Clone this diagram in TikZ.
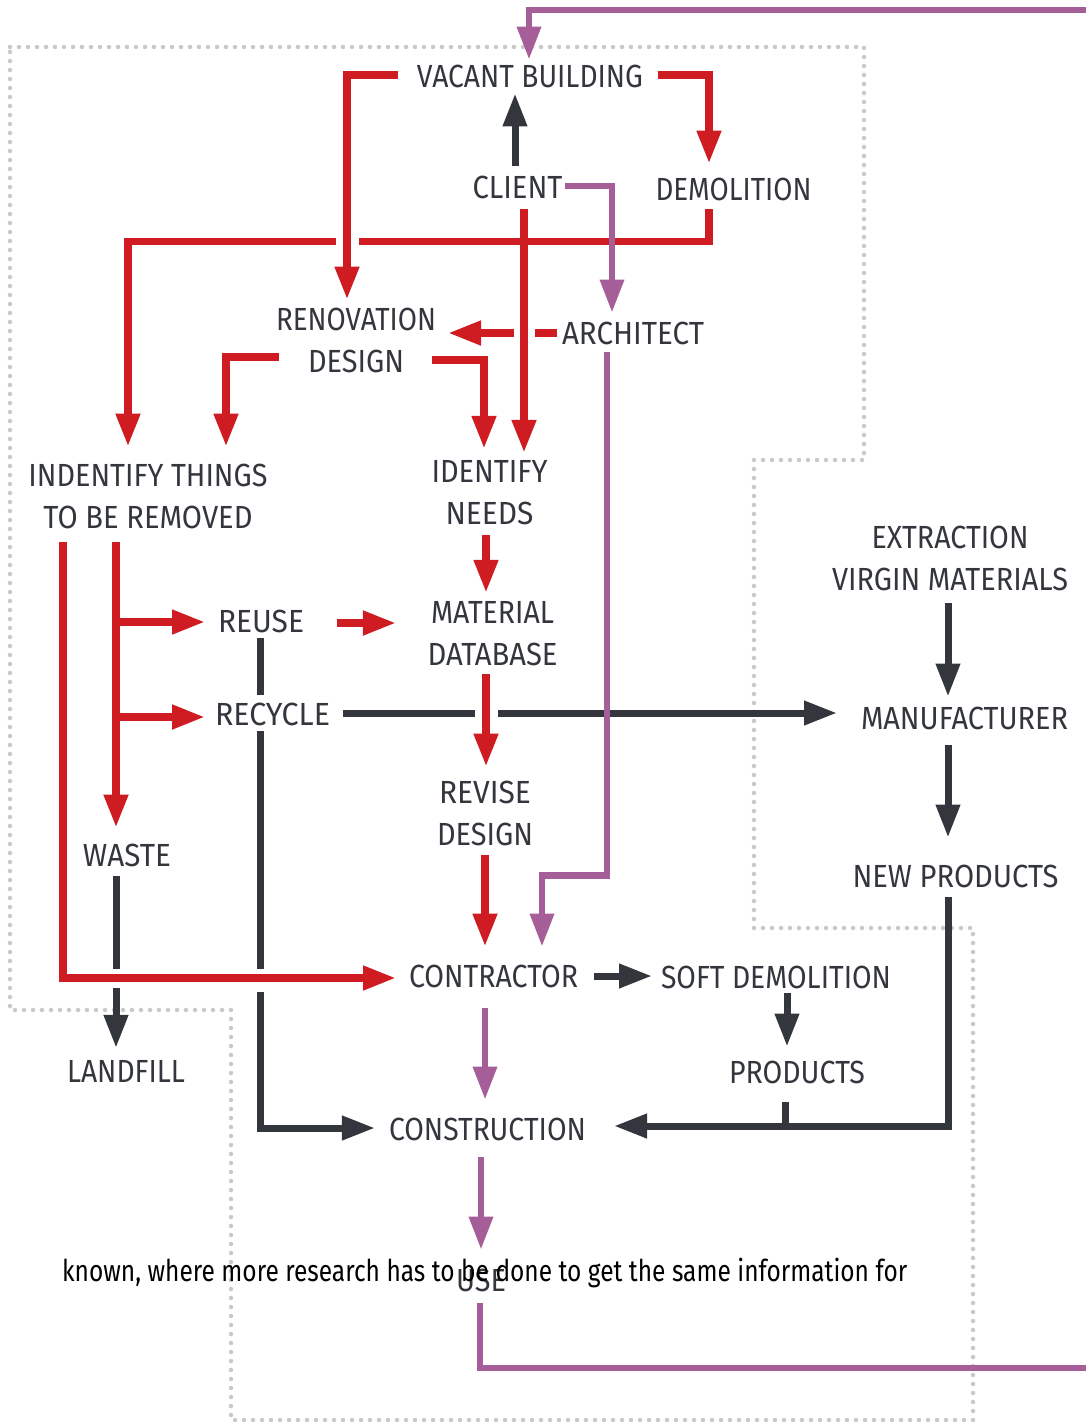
\documentclass[tikz,border=0pt]{standalone}
\usepackage{fontspec}
\setmainfont{Fira Sans}
\usetikzlibrary{arrows.meta,calc}
\definecolor{cred}{HTML}{CF1B22}
\definecolor{cpur}{HTML}{A65E98}
\definecolor{cdark}{HTML}{33363C}
\definecolor{cdot}{HTML}{C9C9C9}
\newcommand\fw[2]{\resizebox{#1pt}{\height}{#2}}
\begin{document}
\begin{tikzpicture}[x=1pt,y=-1pt,
 lbl/.style={inner sep=0pt,outer sep=0pt,text=cdark,font=\fontsize{32}{42}\selectfont,align=center},
 tipx/.style={-{Triangle[length=33pt,width=23pt]}},
 redln/.style={draw=cred,line width=7.5pt},
 darkln/.style={draw=cdark,line width=7pt},
 purln/.style={draw=cpur,line width=6.5pt},
 gapfill/.style={fill=white,draw=none},
 dotln/.style={draw=cdot,line width=4.5pt,line cap=round,dash pattern=on 0pt off 9pt}]
\useasboundingbox (0,0) rectangle (1085,1422);
\fill[white] (0,0) rectangle (1085,1422);
% dotted outline
\draw[dotln] (10,47) -- (864,47) -- (864,460) -- (754,460) -- (754,928) -- (973,928) -- (973,1420) -- (231,1420) -- (231,1010) -- (10,1010) -- cycle;
% nodes
\node[lbl] (vb) at (530,76) {\fw{226}{VACANT BUILDING}};
\node[lbl] (client) at (517.5,187) {\fw{90}{CLIENT}};
\node[lbl] (demo) at (733.5,189) {\fw{156}{DEMOLITION}};
\node[lbl] (reno) at (356,340) {\fw{160}{RENOVATION}\\\fw{96}{DESIGN}};
\node[lbl] (arch) at (633,333.5) {\fw{142}{ARCHITECT}};
\node[lbl] (ident) at (148,496.5) {\fw{239}{INDENTIFY THINGS}\\\fw{209}{TO BE REMOVED}};
\node[lbl] (needs) at (489.5,492.5) {\fw{116}{IDENTIFY}\\\fw{88}{NEEDS}};
\node[lbl] (extr) at (950,558) {\fw{157}{EXTRACTION}\\\fw{236}{VIRGIN MATERIALS}};
\node[lbl] (reuse) at (261,621) {\fw{86}{REUSE}};
\node[lbl] (matdb) at (492.5,634) {\fw{123}{MATERIAL}\\\fw{130}{DATABASE}};
\node[lbl] (recycle) at (272.5,714) {\fw{115}{RECYCLE}};
\node[lbl] (manu) at (964.5,718) {\fw{207}{MANUFACTURER}};
\node[lbl] (revise) at (485,813) {\fw{92}{REVISE}\\\fw{96}{DESIGN}};
\node[lbl] (waste) at (127,855) {\fw{88}{WASTE}};
\node[lbl] (newp) at (955.5,876) {\fw{206}{NEW PRODUCTS}};
\node[lbl] (contr) at (493.5,976) {\fw{169}{CONTRACTOR}};
\node[lbl] (soft) at (776,977) {\fw{230}{SOFT DEMOLITION}};
\node[lbl] (landfill) at (126,1071.5) {\fw{118}{LANDFILL}};
\node[lbl] (products) at (797,1072) {\fw{136}{PRODUCTS}};
\node[lbl] (constr) at (487.5,1129.5) {\fw{197}{CONSTRUCTION}};
\node[lbl] (use) at (481,1280) {\fw{50}{USE}};
% dark connectors
\draw[darkln,tipx] ($(client.north)+(-2.5,-10)$) -- ($(vb.south)+(-15,6)$);
\draw[darkln] ($(reuse.south)+(-1,6)$) -- ($(recycle.north)+(-12.5,-8)$);
\draw[darkln,tipx] ($(recycle.south)+(-12.5,6)$) |- ($(constr.west)+(-14,-1.5)$);
\draw[darkln,tipx] ($(recycle.east)+(13,-1)$) -- ($(manu.west)+(-24,-5)$);
\draw[darkln,tipx] ($(extr.south)+(-2,13)$) -- ($(manu.north)+(-16.5,-10)$);
\draw[darkln,tipx] ($(manu.south)+(-16.5,16)$) -- ($(newp.north)+(-7.5,-27)$);
\draw[darkln,tipx] ($(waste.south)+(-11,10)$) -- ($(landfill.north)+(-10,-12.5)$);
\draw[darkln,tipx] ($(contr.east)+(16,0)$) -- ($(soft.west)+(-9,-1)$);
\draw[darkln,tipx] ($(soft.south)+(11,5)$) -- ($(products.north)+(-10,-14)$);
\draw[darkln,tipx] ($(newp.south)+(-7.5,10)$) |- ($(constr.east)+(28,-3.5)$);
\draw[darkln] ($(products.south)+(-12,19)$) -- ++(0,25);
% red connectors drawn under others
\draw[redln,tipx] ($(demo.south)+(-24.5,9)$) -- ++(0,32) -| ($(ident.north)+(-20,-17.5)$);
\draw[redln,tipx] ($(arch.west)+(-5,-0.5)$) -- ($(reno.east)+(12,-7)$);
% crossing gaps
\fill[gapfill] (336,235) rectangle (359,247);
\fill[gapfill] (514,327) rectangle (535,339);
\fill[gapfill] (475,706) rectangle (498,720);
\fill[gapfill] (110,969) rectangle (122,988);
\fill[gapfill] (254,969) rectangle (266,992);
% red connectors
\draw[redln,tipx] ($(vb.west)+(-19,-1)$) -| ($(reno.north)+(-9,-8)$);
\draw[redln,tipx] ($(vb.east)+(15,-1)$) -| ($(demo.north)+(-24.5,-14)$);
\draw[redln,tipx] ($(client.south)+(6.5,11)$) -- ($(needs.north)+(34.5,-7.5)$);
\draw[redln,tipx] ($(reno.west)+(3,17)$) -| ($(ident.north)+(78,-17.5)$);
\draw[redln,tipx] ($(reno.east)+(-4,20)$) -| ($(needs.north)+(-5.5,-11.5)$);
\draw[redln,tipx] ($(needs.south)+(-3.5,10.5)$) -- ($(matdb.north)+(-6.5,-9)$);
\draw[redln,tipx] ($(matdb.south)+(-6.5,8)$) -- ($(revise.north)+(1,-14)$);
\draw[redln,tipx] ($(revise.south)+(0,10)$) -- ($(contr.north)+(-8.5,-18)$);
\draw[redln,tipx] ($(ident.south)+(-85,13.5)$) |- ($(contr.west)+(-13,2)$);
\draw[redln,tipx] ($(ident.south)+(-32,13.5)$) -- ($(waste.north)+(-11,-16)$);
\draw[redln,tipx] ($(ident.south |- reuse.west)+(-32,1)$) -- ($(reuse.west)+(-13,1)$);
\draw[redln,tipx] ($(ident.south |- recycle.west)+(-32,3)$) -- ($(recycle.west)+(-10,3)$);
\draw[redln,tipx] ($(reuse.east)+(33,2)$) -- ($(matdb.west)+(-31.5,-11)$);
% purple connectors
\draw[purln,tipx] ($(client.east)+(2.5,-1)$) -| ($(arch.north)+(-21,-9.5)$);
\draw[purln,tipx] ($(arch.south)+(-26,7.5)$) -- ++(0,523) -| ($(contr.north)+(48.5,-18)$);
\draw[purln,tipx] ($(contr.south)+(-8.5,21)$) -- ($(constr.north)+(-2.5,-18.5)$);
\draw[purln,tipx] ($(constr.south)+(-6.5,16.5)$) -- ($(use.north)+(0,-19)$);
\draw[purln,tipx] ($(use.south)+(-1,12)$) |- (1100,1368) -- (1100,10) -| ($(vb.north)+(-1,-5)$);
% overlaid text line
\node[anchor=base west,inner sep=0pt,font=\fontsize{30}{36}\selectfont,text=black] (note) at (62,1281) {\fw{845}{known, where more research has to be done to get the same information for}};
\end{tikzpicture}
\end{document}
